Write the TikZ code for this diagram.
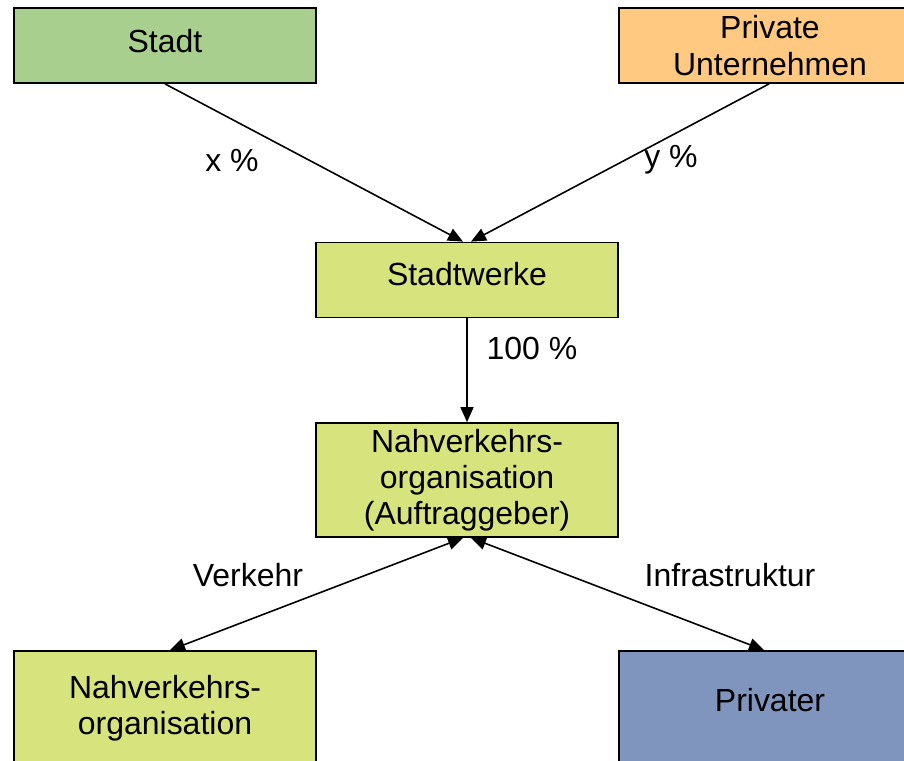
\documentclass[tikz,border=0pt]{standalone}
\usepackage{fontspec}
\setmainfont{Liberation Sans}
\usepackage{tikz}
\usetikzlibrary{arrows.meta}
\usepackage{xcolor}
\definecolor{stadtgreen}{RGB}{169,207,142}
\definecolor{privorange}{RGB}{255,201,130}
\definecolor{nvgreen}{RGB}{215,228,126}
\definecolor{privblue}{RGB}{128,149,189}

\begin{document}
\begin{tikzpicture}
  \tikzset{box/.style = {shape=rectangle,draw,line width=1pt,minimum width=6.04cm,minimum height=1.5cm,inner sep=1pt,align=center,font=\fontsize{18.2}{20.6}\selectfont}}
    \tikzset{tallbox/.style = {box,minimum height=2.28cm}}
  \tikzset{lbl/.style = {inner sep=0pt,font=\fontsize{18.2}{20.6}\selectfont}}
  \tikzset{link/.style = {line width=0.9pt}}
  \tikzset{%
  tipA/.tip={Triangle[length=0.3cm,width=0.26cm]},
}

  \useasboundingbox (0,0) rectangle (18.08,-15.2);

	\node[box, fill=stadtgreen, text depth=0.2cm] (S) at (3.3,-0.91) {Stadt};
	\node[box, fill=privorange] (PU) at (15.4,-0.91) {Private\\Unternehmen};

	\node[box, fill=nvgreen, text depth=0.26cm] (SW) at (9.34,-5.6) {Stadtwerke};
	\node[tallbox, fill=nvgreen] (NVO) at (9.34,-9.6) {Nahverkehrs-\\organisation\\(Auftraggeber)};

	\node[tallbox, fill=nvgreen] (NV) at (3.3,-14.16) {Nahverkehrs-\\organisation};
	\node[tallbox, fill=privblue, text depth=0.32cm] (PR) at (15.4,-14.16) {Privater};

	\node[lbl] (lx) at (4.64,-3.2) {x \%};
	\node[lbl] (ly) at (13.42,-3.2) {y \%};
	\node[lbl] (lh) at (10.64,-6.96) {100 \%};
	\node[lbl] (lv) at (4.96,-11.5) {Verkehr};
	\node[lbl] (li) at (14.6,-11.5) {Infrastruktur};

    \draw[link,-tipA] (S.south) -- ([xshift=-0.08cm]SW.north);
    \draw[link,-tipA] ([xshift=-0.02cm]PU.south) -- ([xshift=0.08cm]SW.north);
    \draw[link,-tipA] (SW.south) -- (NVO.north);

    \draw[link,tipA-tipA] ([xshift=-0.08cm]NVO.south) -- ([xshift=0.1cm]NV.north);
    \draw[link,tipA-tipA] ([xshift=0.08cm]NVO.south) -- ([xshift=-0.12cm]PR.north);

\end{tikzpicture}
\end{document}
